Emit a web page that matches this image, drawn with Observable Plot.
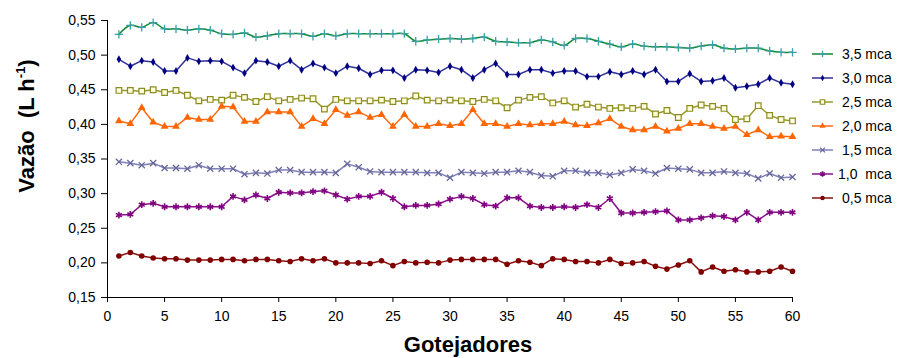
<!DOCTYPE html>
<html>
<head>
<meta charset="utf-8">
<script src="https://cdn.jsdelivr.net/npm/d3@7"></script>
<script src="https://cdn.jsdelivr.net/npm/@observablehq/plot@0.6"></script>
<style>
  html, body { margin: 0; padding: 0; background: #fff; }
  #wrap { position: relative; width: 898px; height: 358px; font-family: "Liberation Sans", Arial, sans-serif; }
  #ytitle { position: absolute; left: 27px; top: 126px; transform: translate(-50%, -50%) rotate(-90deg);
            font-weight: bold; font-size: 22px; white-space: pre; line-height: 22px; }
  #ytitle sup { font-size: 13px; vertical-align: 9px; line-height: 0; }
  #xtitle { position: absolute; left: 468px; top: 334px; transform: translateX(-50%);
            font-weight: bold; font-size: 22px; line-height: 22px; white-space: nowrap; }
  #legend { position: absolute; left: 812px; top: 44px; font-size: 14px; }
  .item { position: absolute; left: 0; height: 20px; display: flex; align-items: center; white-space: pre; }
  .item svg { display: block; margin-right: 8px; }
</style>
</head>
<body>
<div id="wrap">
  <div id="chart"></div>
  <div id="ytitle">Vazão  (L h<sup>-1</sup>)</div>
  <div id="xtitle">Gotejadores</div>
  <div id="legend"></div>
</div>
<script>
const gotejadores = d3.range(1, 61);

const s35 = [0.530,0.543,0.540,0.547,0.538,0.538,0.536,0.538,0.536,0.531,0.530,0.532,0.526,0.528,0.531,0.531,0.531,0.527,0.531,0.528,
             0.531,0.531,0.531,0.531,0.531,0.531,0.520,0.522,0.523,0.524,0.523,0.524,0.526,0.520,0.519,0.518,0.518,0.522,0.519,0.514,
             0.524,0.524,0.520,0.516,0.512,0.516,0.513,0.512,0.512,0.511,0.510,0.513,0.515,0.510,0.509,0.510,0.510,0.506,0.504,0.504];
const s30 = [0.494,0.484,0.492,0.490,0.477,0.477,0.496,0.491,0.492,0.491,0.482,0.474,0.492,0.490,0.484,0.492,0.479,0.488,0.482,0.474,
             0.484,0.481,0.472,0.478,0.478,0.467,0.479,0.478,0.475,0.484,0.479,0.467,0.479,0.488,0.472,0.472,0.479,0.479,0.474,0.477,
             0.477,0.469,0.469,0.476,0.472,0.477,0.472,0.479,0.462,0.462,0.473,0.462,0.463,0.467,0.453,0.455,0.458,0.467,0.460,0.458];
const s25 = [0.449,0.449,0.448,0.450,0.446,0.449,0.442,0.434,0.436,0.435,0.442,0.439,0.433,0.440,0.434,0.436,0.438,0.437,0.422,0.436,
             0.434,0.434,0.434,0.435,0.433,0.434,0.441,0.435,0.434,0.435,0.434,0.433,0.436,0.434,0.424,0.435,0.439,0.440,0.431,0.434,
             0.425,0.429,0.425,0.423,0.424,0.423,0.426,0.415,0.420,0.410,0.423,0.428,0.426,0.423,0.407,0.408,0.427,0.413,0.407,0.405];
const s20 = [0.405,0.401,0.424,0.403,0.397,0.397,0.410,0.407,0.407,0.426,0.425,0.404,0.404,0.418,0.418,0.418,0.397,0.408,0.401,0.421,
             0.413,0.418,0.410,0.414,0.397,0.414,0.397,0.397,0.401,0.398,0.401,0.421,0.401,0.401,0.397,0.401,0.399,0.401,0.401,0.404,
             0.399,0.398,0.402,0.408,0.397,0.392,0.392,0.397,0.390,0.394,0.401,0.401,0.397,0.394,0.397,0.385,0.392,0.382,0.383,0.382];
const s15 = [0.346,0.344,0.341,0.344,0.337,0.337,0.336,0.341,0.336,0.336,0.336,0.328,0.330,0.329,0.334,0.334,0.331,0.331,0.331,0.330,
             0.343,0.338,0.332,0.331,0.331,0.331,0.331,0.330,0.330,0.323,0.331,0.330,0.329,0.331,0.331,0.333,0.331,0.326,0.325,0.333,
             0.333,0.330,0.330,0.327,0.330,0.335,0.333,0.329,0.337,0.336,0.335,0.330,0.330,0.332,0.330,0.329,0.322,0.329,0.323,0.324];
const s10 = [0.269,0.270,0.284,0.286,0.281,0.281,0.281,0.281,0.281,0.281,0.296,0.291,0.298,0.293,0.302,0.301,0.301,0.303,0.304,0.298,
             0.292,0.296,0.296,0.302,0.293,0.281,0.283,0.283,0.285,0.292,0.296,0.293,0.284,0.282,0.294,0.294,0.282,0.280,0.280,0.281,
             0.280,0.284,0.280,0.293,0.272,0.272,0.273,0.274,0.275,0.262,0.262,0.265,0.268,0.267,0.262,0.273,0.262,0.273,0.273,0.273];
const s05 = [0.210,0.215,0.210,0.207,0.206,0.206,0.204,0.204,0.204,0.205,0.205,0.203,0.205,0.205,0.203,0.202,0.206,0.203,0.206,0.200,
             0.200,0.200,0.199,0.203,0.196,0.202,0.200,0.201,0.200,0.204,0.205,0.205,0.205,0.205,0.198,0.203,0.201,0.196,0.206,0.205,
             0.202,0.202,0.200,0.205,0.199,0.200,0.202,0.195,0.191,0.197,0.203,0.187,0.194,0.188,0.190,0.187,0.187,0.188,0.194,0.188];

const seriesNames = ["3,5 mca", "3,0 mca", "2,5 mca", "2,0 mca", "1,5 mca", "1,0  mca", "0,5 mca"];
const seriesValues = [s35, s30, s25, s20, s15, s10, s05];
const xTicks = d3.range(0, 61, 5);
const yTicks = [0.15, 0.20, 0.25, 0.30, 0.35, 0.40, 0.45, 0.50, 0.55];

const styles = [
  {line: "#108a30", symbol: "plus",     r: 2.8, stroke: "#3aa0a8", fill: "none",    sw: 1.3, curve: "catmull-rom"},
  {line: "#30309a", symbol: "diamond",  r: 2.4, stroke: "none",    fill: "#000080", sw: 1,   curve: "linear"},
  {line: "#9a9a30", symbol: "square2",  r: 3.6, stroke: "#8c8c20", fill: "#ffffe0", sw: 1.2, curve: "linear"},
  {line: "#ff6a10", symbol: "triangle", r: 2.9, stroke: "none",    fill: "#ff6600", sw: 1,   curve: "linear"},
  {line: "#8080bb", symbol: "times",    r: 2.9, stroke: "#666699", fill: "none",    sw: 1.3, curve: "linear"},
  {line: "#8a108a", symbol: "asterisk", r: 3.2, stroke: "#800080", fill: "none",    sw: 1.6, curve: "linear"},
  {line: "#8a1010", symbol: "circle",   r: 2.8, stroke: "none",    fill: "#800000", sw: 1,   curve: "linear"}
];

const rows = [];
seriesValues.forEach((vals, k) => vals.forEach((v, i) => rows.push({serie: seriesNames[k], k, x: gotejadores[i], y: v})));

const marks = [];
styles.forEach((st, k) => {
  const d = rows.filter(r => r.k === k);
  marks.push(Plot.line(d, {x: "x", y: "y", stroke: st.line, strokeWidth: 1.5, curve: st.curve}));
});
styles.forEach((st, k) => {
  const d = rows.filter(r => r.k === k);
  marks.push(Plot.dot(d, {x: "x", y: "y", symbol: () => st.symbol, r: st.r, stroke: st.stroke, fill: st.fill, strokeWidth: st.sw}));
});

const chart = Plot.plot({
  width: 898,
  height: 358,
  marginLeft: 107,
  marginRight: 106,
  marginTop: 20,
  marginBottom: 61,
  style: {fontFamily: "'Liberation Sans', Arial, sans-serif", fontSize: "14px", color: "#000", background: "#fff", overflow: "visible"},
  x: {domain: [0, 60]},
  y: {domain: [0.15, 0.55]},
  marks: [
    Plot.axisY({ticks: yTicks, tickSize: 6, tickPadding: 6, tickFormat: d => d.toFixed(2).replace(".", ","), label: null, fontSize: 14}),
    Plot.axisX({ticks: xTicks, tickSize: 5, tickPadding: 9, tickFormat: d => String(d), label: null, fontSize: 14}),
    ...marks,
    Plot.ruleX([0], {stroke: "#000", strokeWidth: 1}),
    Plot.ruleY([0.15], {stroke: "#000", strokeWidth: 1})
  ]
});
document.getElementById("chart").appendChild(chart);

// legend
const legend = document.getElementById("legend");
const symMap = {plus: d3.symbolPlus, diamond: d3.symbolDiamond, square2: d3.symbolSquare2, triangle: d3.symbolTriangle,
                times: d3.symbolTimes, asterisk: d3.symbolAsterisk, circle: d3.symbolCircle};
seriesNames.forEach((name, k) => {
  const st = styles[k];
  const item = document.createElement("div");
  item.className = "item";
  item.style.top = (k * 24) + "px";
  const svg = d3.create("svg").attr("width", 22).attr("height", 12);
  svg.append("line").attr("x1", 0).attr("x2", 21).attr("y1", 6).attr("y2", 6).attr("stroke", st.line).attr("stroke-width", 1.5);
  const r = st.r * 0.8;
  svg.append("path").attr("transform", "translate(10.5,6)")
     .attr("d", d3.symbol(symMap[st.symbol], Math.PI * r * r)())
     .attr("fill", st.fill).attr("stroke", st.stroke).attr("stroke-width", st.sw);
  item.appendChild(svg.node());
  const span = document.createElement("span");
  span.textContent = name;
  if (k === 5) span.style.marginLeft = "-4px";
  item.appendChild(span);
  legend.appendChild(item);
});
</script>
</body>
</html>
